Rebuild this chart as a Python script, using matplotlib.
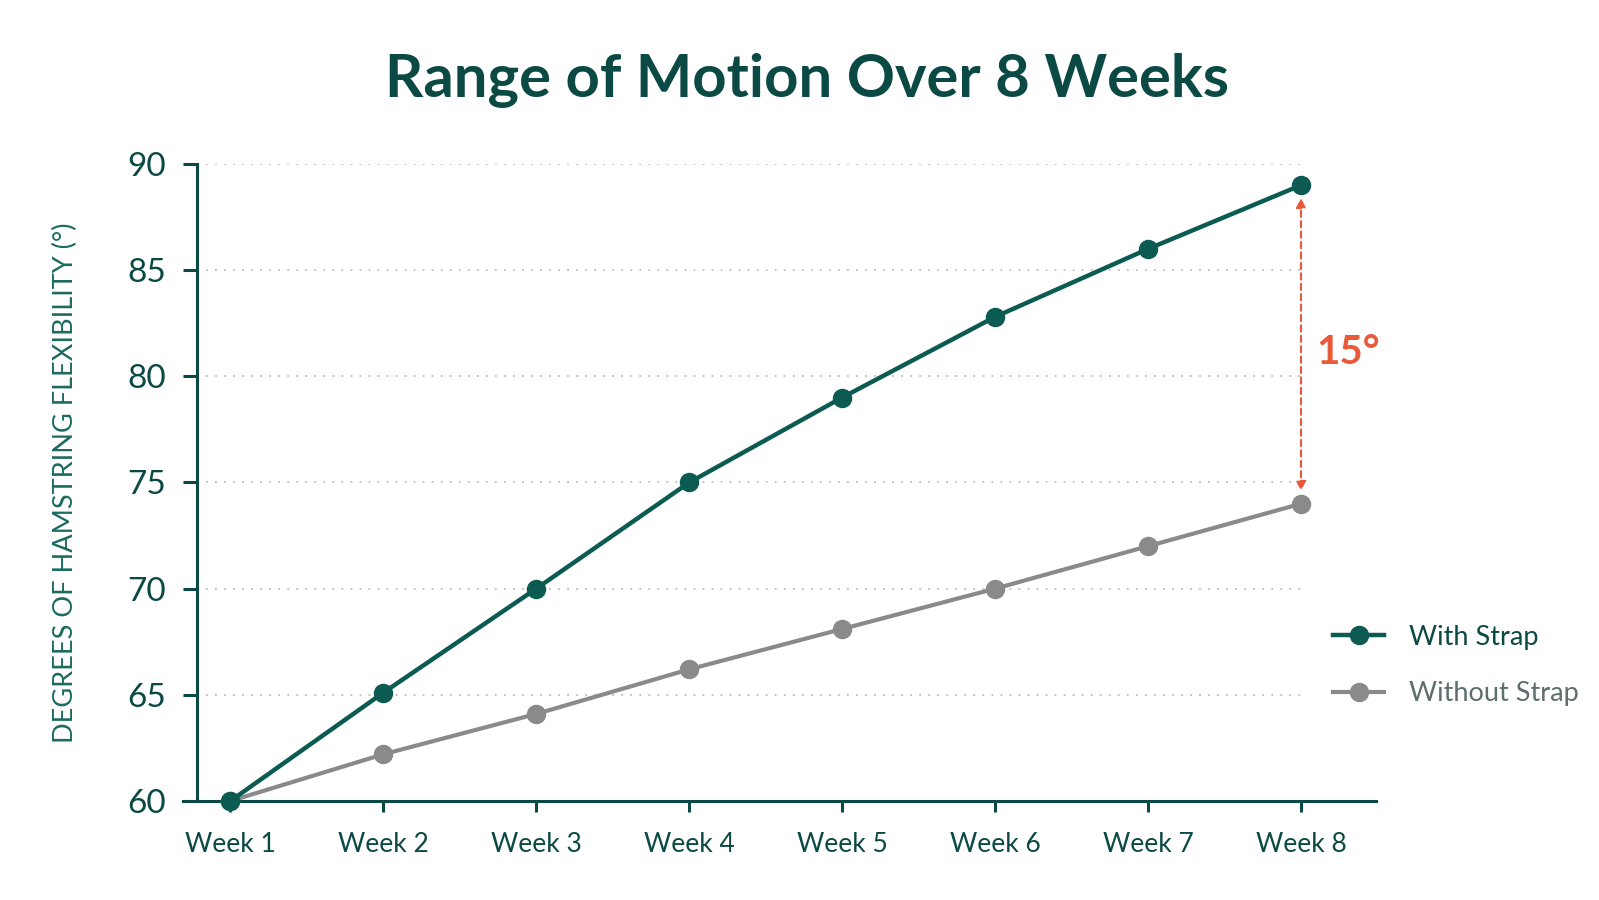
import matplotlib
matplotlib.use("Agg")
import matplotlib.pyplot as plt

# data
weeks = ["Week 1", "Week 2", "Week 3", "Week 4", "Week 5", "Week 6", "Week 7", "Week 8"]
with_strap = [60, 65.1, 70, 75, 79, 82.8, 86, 89]
without_strap = [60, 62.2, 64.1, 66.2, 68.1, 70, 72, 74]
y_ticks = [60, 65, 70, 75, 80, 85, 90]
gap_label = "15°"

DARK = "#0b4a44"
GREEN = "#0c5b52"
GRAY = "#8a8a8a"
ORANGE = "#e9593a"

plt.rcParams["font.family"] = ["Lato", "DejaVu Sans"]

fig = plt.figure(figsize=(15.99, 9.0), dpi=100)
ax = fig.add_axes([0.1144, 0.11, 0.8605 - 0.1144, 0.8178 - 0.11])

x = list(range(1, len(weeks) + 1))
ax.set_xlim(0.69, 8.49)
ax.set_ylim(60, 90)

# dotted gridlines from the y spine to the last week
for yv in y_ticks[1:]:
    ax.plot([0.78, x[-1]], [yv, yv], linestyle=(0, (1, 4)), color="#bdbdbd",
            linewidth=1.3, zorder=1)

ax.plot(x, without_strap, color=GRAY, linewidth=3.0, marker="o", markersize=13,
        label="Without Strap", clip_on=False, zorder=3)
ax.plot(x, with_strap, color=GREEN, linewidth=3.2, marker="o", markersize=13,
        label="With Strap", clip_on=False, zorder=4)

# gap annotation
ax.annotate("", xy=(x[-1], without_strap[-1] + 0.6), xytext=(x[-1], with_strap[-1] - 0.6),
            arrowprops=dict(arrowstyle="<|-|>", color=ORANGE, linestyle=(0, (3, 2)),
                            linewidth=1.5, mutation_scale=14, shrinkA=0, shrinkB=0))
ax.text(x[-1] + 0.1, 81.1, gap_label, color=ORANGE, fontsize=29, fontweight="bold",
        ha="left", va="center")

ax.spines["top"].set_visible(False)
ax.spines["right"].set_visible(False)
ax.spines["left"].set_position(("data", 0.78))
ax.spines["left"].set_color(DARK)
ax.spines["bottom"].set_color(DARK)
ax.spines["left"].set_linewidth(2.2)
ax.spines["bottom"].set_linewidth(2.2)

ax.set_yticks(y_ticks)
ax.set_yticklabels([str(v) for v in y_ticks])
ax.set_xticks(x)
ax.set_xticklabels(weeks)
ax.tick_params(axis="y", colors=DARK, labelsize=24, length=10, width=2.2, pad=12)
ax.tick_params(axis="x", colors=DARK, labelsize=19, length=8, width=2.2, pad=14)

ax.set_ylabel("DEGREES OF HAMSTRING FLEXIBILITY (°)", color="#1b6a60", fontsize=19.5,
              labelpad=0)
ax.yaxis.set_label_coords(-0.088, 0.5)

fig.text(0.505, 0.91, "Range of Motion Over 8 Weeks", ha="center", va="center",
         fontsize=43, fontweight="bold", color=DARK)

handles, labels = ax.get_legend_handles_labels()
leg = ax.legend(handles[::-1], labels[::-1], loc="center left",
                bbox_to_anchor=(0.8184, 0.2606), bbox_transform=fig.transFigure,
                frameon=False, fontsize=19.5, handlelength=1.9, labelspacing=1.15,
                handletextpad=0.9)
leg.get_texts()[0].set_color(DARK)
leg.get_texts()[1].set_color("#5e6e6e")

fig.savefig("out.png", dpi=100, facecolor="white")
